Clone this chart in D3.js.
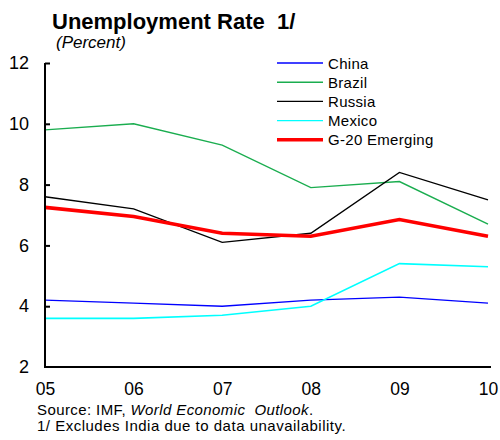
<!DOCTYPE html>
<html>
<head>
<meta charset="utf-8">
<script src="https://cdn.jsdelivr.net/npm/d3@7/dist/d3.min.js"></script>
<style>
  html, body { margin: 0; padding: 0; background: #fff; }
  svg { display: block; font-family: "Liberation Sans", Arial, sans-serif; }
  text { white-space: pre; }
</style>
</head>
<body>
<svg id="chart" width="500" height="440"></svg>
<script>
// Years on the x axis and tick labels
const years = ["05", "06", "07", "08", "09", "10"];
const yTicks = [2, 4, 6, 8, 10, 12];

// Unemployment rate, percent
const china  = [4.2, 4.1, 4.0, 4.2, 4.3, 4.1];
const brazil = [9.8, 10.0, 9.3, 7.9, 8.1, 6.7];
const russia = [7.6, 7.2, 6.1, 6.4, 8.4, 7.5];
const mexico = [3.6, 3.6, 3.7, 4.0, 5.4, 5.3];
const g20em  = [7.25, 6.95, 6.4, 6.3, 6.85, 6.3];

const seriesNames  = ["China", "Brazil", "Russia", "Mexico", "G-20 Emerging"];
const seriesValues = [china, brazil, russia, mexico, g20em];
const seriesColors = ["#0000ff", "#1aad4f", "#000000", "#00ffff", "#ff0000"];
const seriesWidths = [1.4, 1.4, 1.4, 1.6, 3.6];

const svg = d3.select("#chart");

const plotLeft = 45, plotRight = 488, plotTop = 63, plotBottom = 367;

const x = d3.scalePoint().domain(years).range([plotLeft, plotRight]);
const y = d3.scaleLinear().domain([2, 12]).range([plotBottom, plotTop]);

// Title
svg.append("text")
  .attr("x", 52).attr("y", 29)
  .attr("font-size", 22).attr("font-weight", "bold")
  .text("Unemployment Rate  1/");
svg.append("text")
  .attr("x", 56).attr("y", 48)
  .attr("font-size", 17).attr("font-style", "italic")
  .text("(Percent)");

// Lines
const line = d3.line()
  .x((d, i) => x(years[i]))
  .y(d => y(d));

seriesValues.forEach((vals, k) => {
  svg.append("path")
    .datum(vals)
    .attr("fill", "none")
    .attr("stroke", seriesColors[k])
    .attr("stroke-width", seriesWidths[k])
    .attr("stroke-linejoin", "miter")
    .attr("d", line);
});

// Left axis with inward ticks
const yAxis = d3.axisLeft(y)
  .tickValues(yTicks)
  .tickSize(-5)
  .tickPadding(16)
  .tickFormat(d3.format("d"));
const gy = svg.append("g")
  .attr("transform", `translate(${plotLeft},0)`)
  .call(yAxis);
gy.select(".domain").attr("stroke-width", 2).attr("d", `M0,${plotTop}V${plotBottom}`);
gy.selectAll(".tick line").attr("stroke-width", 2)
  .filter(d => d === 2).remove();
gy.selectAll(".tick text").attr("font-size", 18).attr("fill", "#000")
  .attr("font-family", "Liberation Sans, Arial, sans-serif");

// Bottom axis, labels only
const xAxis = d3.axisBottom(x).tickSize(0).tickPadding(16);
const gx = svg.append("g")
  .attr("transform", `translate(0,${plotBottom})`)
  .call(xAxis);
gx.select(".domain").attr("stroke-width", 2).attr("d", `M${plotLeft - 1},0H${plotRight + 3}`);
gx.selectAll(".tick text").attr("font-size", 17.5).attr("fill", "#000")
  .attr("font-family", "Liberation Sans, Arial, sans-serif");

// Legend
const legend = svg.append("g");
seriesNames.forEach((name, k) => {
  const ly = 63 + k * 19.2;
  legend.append("line")
    .attr("x1", 277).attr("x2", 323)
    .attr("y1", ly).attr("y2", ly)
    .attr("stroke", seriesColors[k])
    .attr("stroke-width", k === 4 ? 3.6 : 1.4);
  legend.append("text")
    .attr("x", 328).attr("y", ly + 5.5)
    .attr("font-size", 15).attr("letter-spacing", 0.3)
    .text(name);
});

// Notes
svg.append("text")
  .attr("x", 37).attr("y", 415).attr("font-size", 15).attr("letter-spacing", 0.4)
  .call(t => {
    t.append("tspan").text("Source: IMF, ");
    t.append("tspan").attr("font-style", "italic").text("World Economic  Outlook");
    t.append("tspan").text(".");
  });
svg.append("text")
  .attr("x", 37).attr("y", 431).attr("font-size", 15).attr("letter-spacing", 0.5)
  .text("1/ Excludes India due to data unavailability.");
</script>
</body>
</html>
